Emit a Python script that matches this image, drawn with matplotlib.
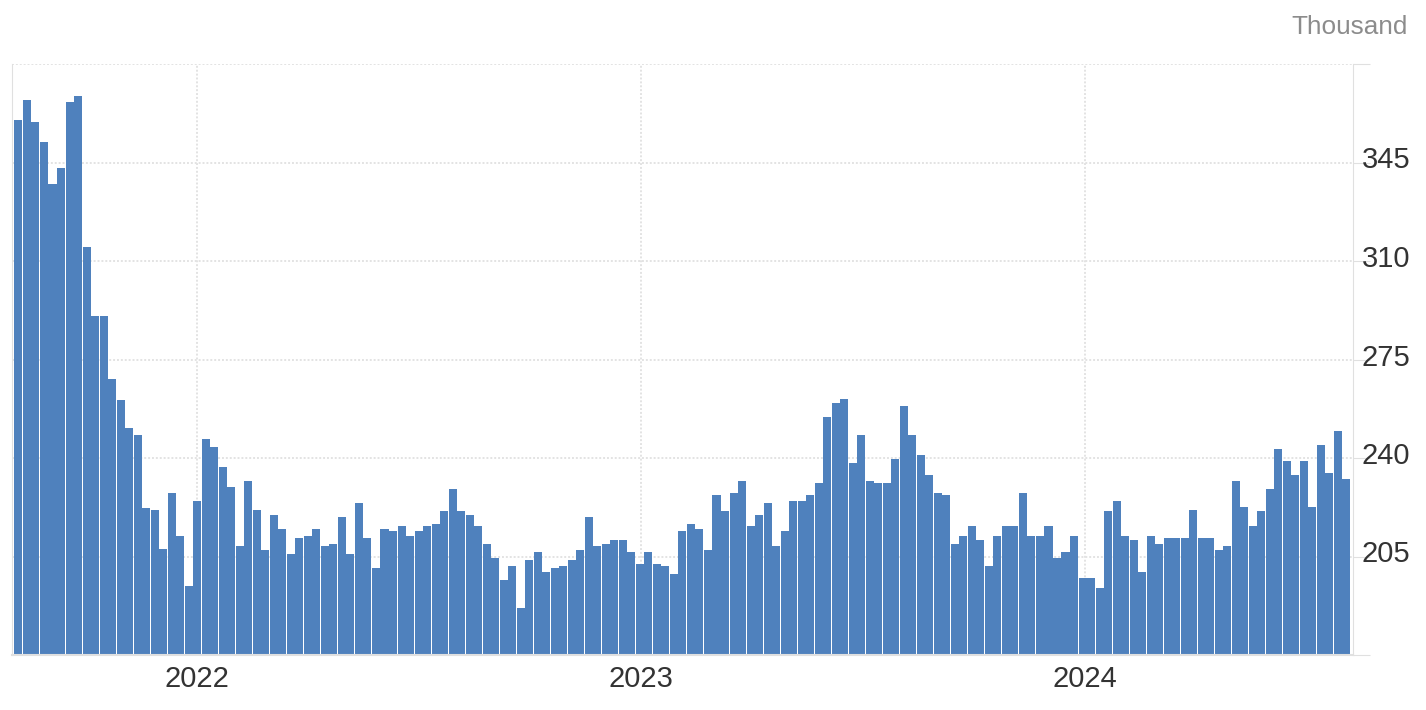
"""Weekly claims bar chart, Aug 2021 - Aug 2024 (thousands)."""
from __future__ import annotations

import datetime as dt

import matplotlib
matplotlib.use("Agg")
import matplotlib.pyplot as plt
import matplotlib.dates as mdates
from matplotlib.transforms import ScaledTranslation
import pandas as pd

# week-ending Saturdays, first bar and count
FIRST_WEEK = "2021-08-07"

CLAIMS = [
    360.2, 367.2, 359.4, 352.4, 337.4, 343.1, 366.6, 368.7, 314.8, 290.5,
    290.5, 267.9, 260.7, 250.8, 248.0, 222.4, 221.7, 207.5, 227.4, 212.4,
    194.5, 224.6, 246.8, 243.9, 236.8, 229.6, 208.9, 231.8, 221.7, 207.4,
    219.6, 214.6, 206.0, 211.7, 212.4, 214.6, 208.9, 209.6, 218.9, 206.0,
    223.9, 211.7, 201.0, 214.6, 213.9, 216.0, 212.4, 213.9, 216.0, 216.7,
    221.0, 228.9, 221.0, 219.6, 216.0, 209.6, 204.6, 196.7, 201.7, 186.7,
    203.8, 206.7, 199.5, 201.0, 201.7, 203.8, 207.4, 218.9, 208.9, 209.6,
    211.0, 211.0, 206.7, 202.4, 206.7, 202.4, 201.7, 198.8, 213.9, 216.7,
    214.6, 207.4, 226.8, 221.0, 227.5, 231.8, 216.0, 219.6, 223.9, 208.9,
    213.9, 224.6, 224.6, 226.8, 231.0, 254.7, 259.7, 261.1, 238.2, 248.2,
    231.8, 231.0, 231.0, 239.6, 258.3, 248.2, 241.1, 233.9, 227.5, 226.8,
    209.6, 212.4, 216.0, 211.0, 201.7, 212.4, 216.0, 216.0, 227.5, 212.4,
    212.4, 216.0, 204.6, 206.7, 212.4, 197.4, 197.4, 193.8, 221.0, 224.6,
    212.4, 211.0, 199.5, 212.4, 209.6, 211.7, 211.7, 211.7, 221.7, 211.7,
    211.7, 207.4, 208.9, 231.8, 222.5, 216.0, 221.0, 228.9, 243.2, 238.9,
    233.9, 238.9, 222.5, 244.7, 234.6, 249.7, 232.5,
]

Y_TICKS = [170, 205, 240, 275, 310, 345, 380]
Y_LABELS = ["", "205", "240", "275", "310", "345", ""]
YEAR_TICKS = ["2022-01-01", "2023-01-01", "2024-01-01"]
YEAR_LABELS = ["2022", "2023", "2024"]

BAR_COLOR = "#4f81bd"
GRID_COLOR = "#e3e3e3"
AXIS_COLOR = "#e0e0e0"
TEXT_COLOR = "#333333"

W, H = 1426, 710


def render_chart(save_path: str = "out.png") -> None:
    weeks = pd.date_range(FIRST_WEEK, periods=len(CLAIMS), freq="W-SAT")

    plt.rcParams["font.family"] = ["Liberation Sans", "DejaVu Sans"]
    fig = plt.figure(figsize=(W / 100, H / 100), dpi=100)
    fig.patch.set_facecolor("white")
    ax = fig.add_axes([12 / W, (H - 655) / H, (1353 - 12) / W, (655 - 64) / H])

    ax.bar(weeks, CLAIMS, width=6.6, color=BAR_COLOR, linewidth=0,
           antialiased=False, zorder=2)

    x0 = mdates.date2num(dt.datetime(2022, 1, 1))
    x1 = mdates.date2num(dt.datetime(2024, 1, 1))
    ax.set_xlim(x0 - 152.3, x1 + 220.4)
    ax.set_ylim(Y_TICKS[0], Y_TICKS[-1])

    ax.set_xticks([mdates.date2num(pd.Timestamp(d)) for d in YEAR_TICKS])
    ax.set_xticklabels(YEAR_LABELS)
    ax.set_yticks(Y_TICKS)
    ax.set_yticklabels(Y_LABELS)

    ax.yaxis.tick_right()
    ax.tick_params(axis="y", length=12.2, width=0.8, color=AXIS_COLOR,
                   labelsize=21, labelcolor=TEXT_COLOR, pad=-5.8)
    ax.tick_params(axis="x", length=0, labelsize=21, labelcolor=TEXT_COLOR, pad=7)

    # labels sit a little above their grid line
    lift = ScaledTranslation(0, 5 / 100, fig.dpi_scale_trans)
    for tick in ax.yaxis.get_major_ticks():
        tick.label2.set_transform(tick.label2.get_transform() + lift)

    ax.grid(True, color=GRID_COLOR, linestyle=(0, (1, 1)), linewidth=1.4, zorder=0)
    ax.set_axisbelow(True)

    for side in ("left", "right"):
        ax.spines[side].set_color(AXIS_COLOR)
        ax.spines[side].set_linewidth(0.8)
    ax.spines["bottom"].set_color(AXIS_COLOR)
    ax.spines["bottom"].set_linewidth(1.5)
    ax.spines["top"].set_visible(False)

    fig.text(1408 / W, 1 - 27 / H, "Thousand", ha="right", va="center",
             fontsize=18.8, color="#8c8c8c")

    fig.savefig(save_path, dpi=100)


def main():
    render_chart("out.png")


if __name__ == "__main__":
    main()
